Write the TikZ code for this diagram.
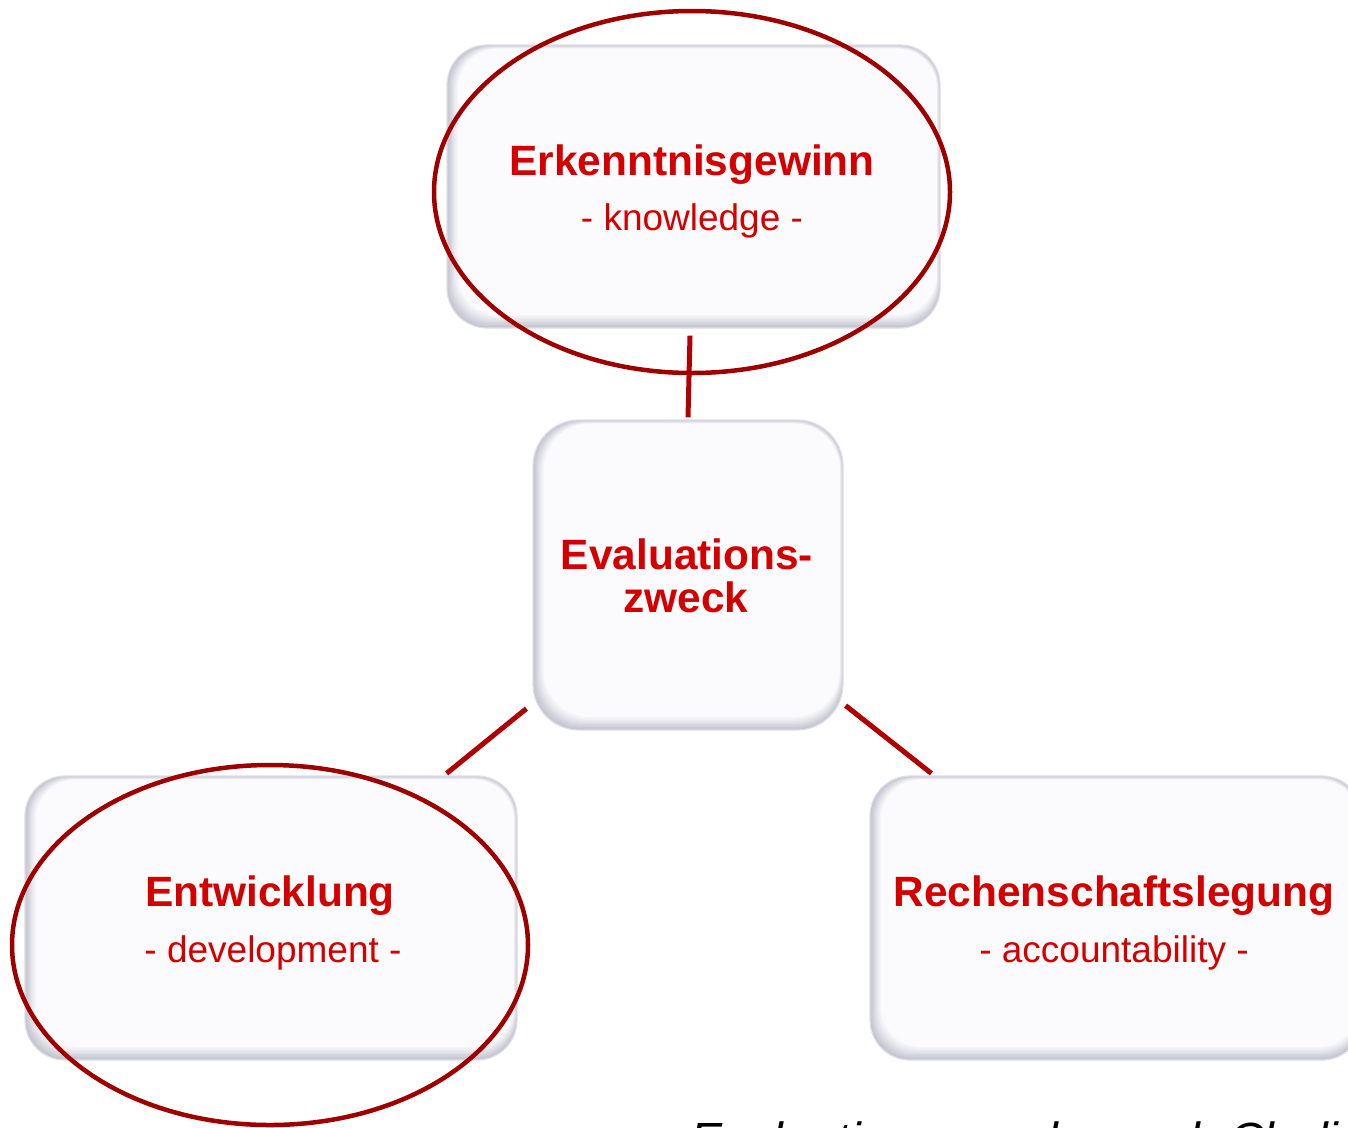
\documentclass[tikz,border=0pt]{standalone}
\usepackage{fontspec}
\setmainfont{Liberation Sans}
\usetikzlibrary{shapes.geometric,calc}
\definecolor{txtred}{RGB}{212,0,0}
\definecolor{ringred}{RGB}{158,0,0}
\definecolor{linered}{RGB}{176,0,0}
\definecolor{boxedge}{RGB}{196,196,208}
\definecolor{boxin}{RGB}{252,252,254}
\tikzset{
  softbox/.style={rounded corners=#1, draw=boxedge!55!white, line width=1.2pt,
    fill=boxedge, inner sep=0pt,
    path picture={
      \foreach \k in {1,...,9}{
        \pgfmathtruncatemacro\pp{100-11*\k}
        \fill[boxedge!\pp!boxin, rounded corners=#1]
          ([shift={(1.2*\k pt,1.45*\k pt)}]path picture bounding box.south west)
          rectangle
          ([shift={(-0.35*\k pt,-0.4*\k pt)}]path picture bounding box.north east);
      }
    }},
  softbox/.default=40pt,
  ttl/.style={font=\bfseries\fontsize{42.4}{46}\selectfont, text=txtred, anchor=base, inner sep=0pt},
  sub/.style={font=\fontsize{37}{42}\selectfont, text=txtred, anchor=base, inner sep=0pt},
  ring/.style={ellipse, draw=ringred, line width=4.5pt, inner sep=0pt},
  conn/.style={draw=linered, line width=5pt}
}
\begin{document}
\begin{tikzpicture}[x=1pt,y=-1pt]
\clip (0,0) rectangle (1348,1127);
\fill[white] (0,0) rectangle (1348,1127);
% boxes
\node[softbox=40pt, minimum width=493pt, minimum height=283pt] (know) at (693.5,186.5) {};
\node[softbox=46pt, minimum width=310pt, minimum height=310pt] (mid) at (688,575) {};
\node[softbox=40pt, minimum width=492pt, minimum height=284pt] (dev) at (271,918) {};
\node[softbox=40pt, minimum width=492pt, minimum height=284pt] (acc) at (1116,918) {};
% texts
\node[ttl] (t1) at (692,175) {Erkenntnisgewinn};
\node[sub] (s1) at (692,230) {- knowledge -};
\node[ttl] (t2a) at (687,569) {Evaluations-};
\node[ttl] (t2b) at (686,612) {zweck};
\node[ttl] (t3) at (270,906) {Entwicklung};
\node[sub] (s3) at (273,962) {- development -};
\node[ttl] (t4) at (1114,906) {Rechenschaftslegung};
\node[sub] (s4) at (1114,962) {- accountability -};
% connectors
\draw[conn] ($(know.south)+(-3.5,7)$) -- ($(mid.north)+(0,-2)$);
\draw[conn] ($(mid.south west)+(-6,-22)$) -- ($(dev.north east)+(-71,-2)$);
\draw[conn] ($(mid.south east)+(2,-25)$) -- ($(acc.north west)+(62,-2)$);
% highlight rings
\node[ring, minimum width=516pt, minimum height=362pt] (r1) at (692,192) {};
\node[ring, minimum width=516pt, minimum height=360pt] (r2) at (270,945) {};
% caption
\node[font=\itshape\fontsize{48}{56}\selectfont, anchor=base west, inner sep=0pt] (cap) at (690,1156) {Evaluationszwecke nach Chelimsky};
\end{tikzpicture}
\end{document}
